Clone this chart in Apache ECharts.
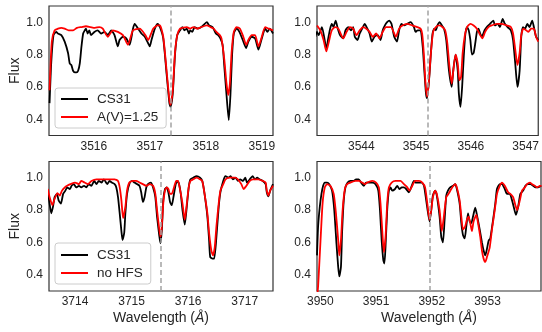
<!DOCTYPE html>
<html><head><meta charset="utf-8">
<script src="https://cdn.jsdelivr.net/npm/echarts@6/dist/echarts.min.js"></script>
<style>html,body{margin:0;padding:0;background:#fff}#c{width:542px;height:332px}</style>
</head><body><div id="c"></div>
<script>
// ---------- data (wavelength in Å, normalised flux) ----------
const obs1 = [[3515.21,0.50],[3515.24,0.75],[3515.28,0.92],[3515.33,0.94],[3515.36,0.93],[3515.42,0.92],[3515.48,0.88],[3515.54,0.81],[3515.57,0.745],[3515.60,0.735],[3515.63,0.70],[3515.66,0.69],[3515.69,0.69],[3515.72,0.70],[3515.75,0.745],[3515.78,0.85],[3515.81,0.93],[3515.84,0.95],[3515.86,0.96],[3515.89,0.93],[3515.92,0.95],[3515.95,0.92],[3516.01,0.94],[3516.07,0.95],[3516.13,0.93],[3516.19,0.94],[3516.25,0.92],[3516.31,0.95],[3516.37,0.92],[3516.43,0.85],[3516.46,0.89],[3516.52,0.91],[3516.58,0.90],[3516.64,0.86],[3516.70,0.96],[3516.73,0.99],[3516.79,0.96],[3516.85,0.93],[3516.91,0.91],[3516.97,0.87],[3517.00,0.85],[3517.03,0.89],[3517.09,0.96],[3517.14,0.99],[3517.18,0.97],[3517.24,0.90],[3517.30,0.68],[3517.35,0.50],[3517.37,0.477],[3517.41,0.56],[3517.45,0.80],[3517.49,0.92],[3517.54,0.95],[3517.58,0.97],[3517.62,0.95],[3517.66,0.96],[3517.70,0.93],[3517.72,0.95],[3517.76,0.94],[3517.80,0.97],[3517.86,0.96],[3517.92,0.97],[3517.98,0.99],[3518.02,1.00],[3518.06,0.98],[3518.12,0.97],[3518.18,0.93],[3518.22,0.92],[3518.26,0.90],[3518.30,0.86],[3518.33,0.73],[3518.37,0.55],[3518.41,0.395],[3518.44,0.55],[3518.47,0.80],[3518.50,0.93],[3518.55,0.96],[3518.60,0.94],[3518.66,0.89],[3518.72,0.84],[3518.76,0.88],[3518.82,0.91],[3518.88,0.90],[3518.94,0.83],[3519.00,0.90],[3519.06,0.96],[3519.10,0.94],[3519.14,0.96],[3519.20,0.93]];
const mod1 = [[3515.21,0.58],[3515.25,0.88],[3515.30,0.95],[3515.36,0.96],[3515.42,0.965],[3515.48,0.96],[3515.55,0.95],[3515.63,0.95],[3515.70,0.965],[3515.78,0.97],[3515.86,0.975],[3515.94,0.97],[3516.02,0.965],[3516.10,0.97],[3516.16,0.96],[3516.25,0.91],[3516.34,0.95],[3516.43,0.94],[3516.52,0.92],[3516.61,0.86],[3516.70,0.95],[3516.82,0.96],[3516.92,0.92],[3516.97,0.89],[3517.06,0.96],[3517.14,0.98],[3517.18,0.98],[3517.24,0.91],[3517.30,0.70],[3517.35,0.52],[3517.37,0.49],[3517.41,0.58],[3517.45,0.81],[3517.49,0.92],[3517.54,0.96],[3517.60,0.967],[3517.66,0.97],[3517.72,0.96],[3517.78,0.97],[3517.84,0.96],[3517.90,0.967],[3518.02,0.98],[3518.08,0.97],[3518.14,0.96],[3518.19,0.94],[3518.25,0.92],[3518.28,0.90],[3518.33,0.77],[3518.37,0.62],[3518.40,0.55],[3518.43,0.62],[3518.46,0.81],[3518.50,0.94],[3518.55,0.97],[3518.61,0.96],[3518.67,0.91],[3518.72,0.86],[3518.76,0.89],[3518.82,0.92],[3518.88,0.92],[3518.94,0.85],[3519.00,0.91],[3519.06,0.97],[3519.12,0.96],[3519.20,0.95]];

const obs2 = [[3543.16,0.91],[3543.19,0.94],[3543.22,0.92],[3543.28,0.97],[3543.33,0.89],[3543.36,0.83],[3543.39,0.89],[3543.43,0.96],[3543.46,0.99],[3543.49,0.97],[3543.53,1.01],[3543.57,0.96],[3543.61,0.92],[3543.67,0.90],[3543.71,0.95],[3543.76,0.97],[3543.81,0.95],[3543.85,0.97],[3543.88,0.91],[3543.93,0.89],[3543.97,0.93],[3544.03,0.97],[3544.06,0.99],[3544.11,0.96],[3544.15,0.93],[3544.19,0.88],[3544.24,0.91],[3544.30,0.92],[3544.35,0.89],[3544.39,0.95],[3544.43,0.98],[3544.47,1.00],[3544.51,1.01],[3544.55,0.99],[3544.60,0.91],[3544.65,0.88],[3544.69,0.95],[3544.73,0.99],[3544.78,0.98],[3544.84,0.99],[3544.90,1.00],[3544.96,0.97],[3544.99,0.94],[3545.03,0.95],[3545.08,0.95],[3545.12,0.85],[3545.15,0.70],[3545.18,0.56],[3545.20,0.53],[3545.24,0.66],[3545.27,0.81],[3545.30,0.93],[3545.33,0.96],[3545.36,0.95],[3545.39,0.98],[3545.43,1.00],[3545.47,0.98],[3545.51,0.96],[3545.55,0.89],[3545.60,0.70],[3545.65,0.60],[3545.68,0.71],[3545.72,0.80],[3545.76,0.70],[3545.78,0.56],[3545.81,0.477],[3545.84,0.60],[3545.87,0.79],[3545.90,0.93],[3545.93,0.97],[3545.96,0.95],[3545.99,0.89],[3546.02,0.80],[3546.05,0.81],[3546.08,0.87],[3546.11,0.94],[3546.14,0.96],[3546.17,0.93],[3546.20,0.91],[3546.25,0.95],[3546.29,0.97],[3546.35,0.99],[3546.41,1.01],[3546.44,0.98],[3546.49,0.99],[3546.53,0.97],[3546.58,1.02],[3546.62,0.99],[3546.67,0.97],[3546.73,0.95],[3546.77,0.89],[3546.81,0.745],[3546.85,0.60],[3546.89,0.70],[3546.92,0.91],[3546.95,0.97],[3546.99,0.96],[3547.03,0.99],[3547.07,0.97],[3547.12,1.01],[3547.15,0.97],[3547.19,0.91],[3547.23,0.89]];
const mod2 = [[3543.19,0.98],[3543.25,0.95],[3543.31,0.89],[3543.36,0.82],[3543.40,0.87],[3543.46,0.95],[3543.52,0.97],[3543.58,0.96],[3543.67,0.90],[3543.73,0.94],[3543.79,0.97],[3543.85,0.96],[3543.91,0.92],[3543.97,0.95],[3544.03,0.97],[3544.09,0.96],[3544.15,0.94],[3544.21,0.91],[3544.27,0.93],[3544.33,0.90],[3544.39,0.94],[3544.45,0.97],[3544.54,0.97],[3544.63,0.91],[3544.69,0.96],[3544.75,0.98],[3544.84,0.99],[3544.93,0.98],[3545.02,0.97],[3545.08,0.96],[3545.11,0.93],[3545.14,0.81],[3545.17,0.63],[3545.20,0.54],[3545.23,0.62],[3545.27,0.81],[3545.31,0.94],[3545.36,0.97],[3545.42,0.98],[3545.48,0.97],[3545.53,0.95],[3545.57,0.87],[3545.61,0.72],[3545.65,0.62],[3545.68,0.70],[3545.72,0.80],[3545.76,0.745],[3545.79,0.64],[3545.82,0.66],[3545.85,0.81],[3545.89,0.92],[3545.93,0.97],[3545.99,0.99],[3546.05,0.98],[3546.11,0.96],[3546.17,0.92],[3546.21,0.90],[3546.26,0.94],[3546.32,0.97],[3546.38,0.98],[3546.47,0.99],[3546.56,0.99],[3546.65,0.98],[3546.73,0.97],[3546.77,0.93],[3546.81,0.83],[3546.85,0.735],[3546.89,0.81],[3546.92,0.92],[3546.96,0.96],[3547.01,0.95],[3547.05,0.94],[3547.10,0.96],[3547.15,0.96],[3547.19,0.91],[3547.23,0.88]];

const obs3 = [[3713.52,0.91],[3713.55,0.84],[3713.58,0.78],[3713.61,0.82],[3713.64,0.88],[3713.68,0.90],[3713.71,0.86],[3713.75,0.84],[3713.79,0.90],[3713.83,0.92],[3713.86,0.94],[3713.91,0.93],[3713.94,0.95],[3713.98,0.96],[3714.02,0.94],[3714.07,0.95],[3714.11,0.94],[3714.16,0.95],[3714.20,0.94],[3714.24,0.96],[3714.29,0.95],[3714.34,0.98],[3714.38,0.96],[3714.42,0.98],[3714.47,0.97],[3714.51,0.99],[3714.57,0.96],[3714.61,0.98],[3714.65,0.97],[3714.70,0.96],[3714.73,0.94],[3714.76,0.88],[3714.79,0.78],[3714.82,0.67],[3714.84,0.615],[3714.87,0.66],[3714.89,0.78],[3714.92,0.90],[3714.97,0.97],[3715.01,0.98],[3715.05,0.97],[3715.10,0.96],[3715.14,0.95],[3715.17,0.91],[3715.20,0.85],[3715.23,0.88],[3715.26,0.94],[3715.29,0.96],[3715.34,0.97],[3715.38,0.94],[3715.42,0.88],[3715.45,0.76],[3715.49,0.64],[3715.51,0.595],[3715.535,0.68],[3715.56,0.86],[3715.59,0.93],[3715.62,0.94],[3715.65,0.91],[3715.68,0.85],[3715.71,0.83],[3715.74,0.88],[3715.78,0.96],[3715.81,0.98],[3715.84,0.96],[3715.87,0.90],[3715.90,0.80],[3715.94,0.71],[3715.97,0.80],[3716.01,0.94],[3716.04,0.99],[3716.09,1.0],[3716.15,1.01],[3716.21,1.0],[3716.25,0.98],[3716.29,0.90],[3716.34,0.76],[3716.37,0.615],[3716.39,0.51],[3716.43,0.50],[3716.46,0.50],[3716.50,0.635],[3716.54,0.82],[3716.57,0.91],[3716.62,0.98],[3716.66,1.01],[3716.71,1.0],[3716.75,1.01],[3716.79,0.99],[3716.84,1.0],[3716.88,0.98],[3716.92,0.99],[3716.97,0.98],[3717.01,1.0],[3717.04,0.97],[3717.09,0.99],[3717.14,1.01],[3717.18,0.99],[3717.22,1.0],[3717.26,0.99],[3717.32,0.98],[3717.37,0.96],[3717.39,0.91],[3717.42,0.885],[3717.45,0.92],[3717.50,0.96]];
const mod3 = [[3713.52,0.93],[3713.55,0.88],[3713.60,0.83],[3713.64,0.87],[3713.69,0.905],[3713.73,0.89],[3713.77,0.92],[3713.82,0.94],[3713.86,0.95],[3713.92,0.96],[3714.00,0.97],[3714.07,0.96],[3714.11,0.98],[3714.17,0.97],[3714.23,0.96],[3714.29,0.98],[3714.38,0.99],[3714.47,0.99],[3714.58,0.99],[3714.70,0.99],[3714.76,0.98],[3714.79,0.94],[3714.82,0.86],[3714.85,0.75],[3714.89,0.82],[3714.92,0.92],[3714.96,0.97],[3715.02,0.98],[3715.08,0.98],[3715.14,0.97],[3715.20,0.96],[3715.26,0.95],[3715.32,0.96],[3715.38,0.95],[3715.42,0.90],[3715.45,0.80],[3715.49,0.68],[3715.51,0.635],[3715.53,0.68],[3715.56,0.84],[3715.59,0.92],[3715.62,0.94],[3715.65,0.93],[3715.68,0.90],[3715.71,0.90],[3715.75,0.94],[3715.79,0.98],[3715.82,0.98],[3715.86,0.92],[3715.90,0.84],[3715.94,0.74],[3715.97,0.82],[3716.01,0.94],[3716.04,0.98],[3716.09,0.99],[3716.15,1.0],[3716.21,0.99],[3716.25,0.98],[3716.29,0.90],[3716.34,0.78],[3716.37,0.66],[3716.41,0.55],[3716.44,0.52],[3716.47,0.57],[3716.50,0.70],[3716.54,0.84],[3716.57,0.92],[3716.62,0.96],[3716.66,0.99],[3716.74,1.0],[3716.82,1.0],[3716.88,0.99],[3716.94,0.96],[3716.98,0.93],[3717.03,0.95],[3717.09,0.98],[3717.15,0.99],[3717.24,0.99],[3717.32,0.98],[3717.37,0.97],[3717.39,0.92],[3717.42,0.89],[3717.45,0.92],[3717.50,0.95]];

const obs4 = [[3949.94,0.52],[3949.96,0.70],[3949.99,0.82],[3950.02,0.90],[3950.05,0.95],[3950.08,0.97],[3950.12,0.97],[3950.16,0.96],[3950.21,0.92],[3950.25,0.80],[3950.29,0.59],[3950.32,0.45],[3950.34,0.39],[3950.37,0.45],[3950.39,0.66],[3950.42,0.86],[3950.45,0.94],[3950.49,0.97],[3950.54,0.98],[3950.60,0.98],[3950.64,0.99],[3950.69,0.99],[3950.73,0.97],[3950.78,0.95],[3950.82,0.97],[3950.87,0.97],[3950.93,0.97],[3950.99,0.96],[3951.04,0.92],[3951.07,0.80],[3951.10,0.615],[3951.13,0.49],[3951.15,0.47],[3951.17,0.575],[3951.20,0.80],[3951.23,0.92],[3951.26,0.94],[3951.29,0.92],[3951.34,0.93],[3951.38,0.95],[3951.42,0.93],[3951.46,0.94],[3951.50,0.94],[3951.54,0.93],[3951.59,0.91],[3951.64,0.95],[3951.68,0.98],[3951.71,0.97],[3951.77,0.97],[3951.82,0.97],[3951.86,0.95],[3951.90,0.86],[3951.96,0.73],[3951.99,0.80],[3952.02,0.89],[3952.06,0.92],[3952.09,0.89],[3952.14,0.76],[3952.17,0.635],[3952.20,0.60],[3952.23,0.74],[3952.26,0.89],[3952.29,0.92],[3952.33,0.94],[3952.38,0.95],[3952.42,0.96],[3952.45,0.93],[3952.50,0.84],[3952.53,0.72],[3952.56,0.645],[3952.59,0.625],[3952.62,0.70],[3952.65,0.78],[3952.68,0.73],[3952.71,0.72],[3952.74,0.76],[3952.78,0.815],[3952.81,0.77],[3952.86,0.68],[3952.90,0.60],[3952.93,0.55],[3952.96,0.52],[3952.99,0.56],[3953.02,0.61],[3953.05,0.625],[3953.10,0.74],[3953.14,0.84],[3953.17,0.93],[3953.22,0.96],[3953.26,0.96],[3953.31,0.93],[3953.35,0.90],[3953.40,0.90],[3953.44,0.86],[3953.47,0.82],[3953.51,0.77],[3953.55,0.82],[3953.59,0.90],[3953.64,0.92],[3953.68,0.95],[3953.73,0.96],[3953.77,0.96],[3953.82,0.95],[3953.86,0.94],[3953.91,0.94],[3953.96,0.95]];
const mod4 = [[3949.95,0.29],[3949.96,0.33],[3950.00,0.59],[3950.04,0.84],[3950.08,0.94],[3950.12,0.96],[3950.18,0.95],[3950.24,0.90],[3950.28,0.78],[3950.32,0.615],[3950.34,0.52],[3950.37,0.615],[3950.40,0.80],[3950.44,0.93],[3950.48,0.96],[3950.54,0.97],[3950.63,0.98],[3950.69,0.98],[3950.75,0.97],[3950.80,0.96],[3950.84,0.97],[3950.93,0.98],[3951.00,0.97],[3951.05,0.94],[3951.08,0.84],[3951.11,0.68],[3951.14,0.54],[3951.17,0.635],[3951.20,0.84],[3951.23,0.94],[3951.28,0.97],[3951.35,0.98],[3951.44,0.98],[3951.50,0.96],[3951.56,0.94],[3951.60,0.92],[3951.65,0.95],[3951.70,0.98],[3951.77,0.98],[3951.83,0.97],[3951.88,0.94],[3951.92,0.84],[3951.96,0.74],[3951.99,0.80],[3952.02,0.88],[3952.06,0.92],[3952.09,0.90],[3952.14,0.80],[3952.18,0.67],[3952.21,0.74],[3952.26,0.88],[3952.30,0.90],[3952.35,0.93],[3952.39,0.95],[3952.42,0.96],[3952.45,0.94],[3952.50,0.86],[3952.53,0.76],[3952.56,0.68],[3952.60,0.70],[3952.63,0.74],[3952.66,0.76],[3952.69,0.72],[3952.72,0.67],[3952.75,0.73],[3952.80,0.77],[3952.83,0.72],[3952.87,0.635],[3952.90,0.55],[3952.93,0.50],[3952.96,0.48],[3952.99,0.51],[3953.04,0.57],[3953.08,0.68],[3953.13,0.80],[3953.17,0.90],[3953.22,0.95],[3953.26,0.97],[3953.31,0.95],[3953.37,0.91],[3953.41,0.90],[3953.46,0.88],[3953.50,0.83],[3953.53,0.80],[3953.58,0.86],[3953.62,0.92],[3953.67,0.94],[3953.71,0.96],[3953.76,0.97],[3953.80,0.96],[3953.85,0.95],[3953.89,0.94],[3953.94,0.95],[3953.97,0.95]];

const xRanges = [[3515.2,3519.2],[3543.19,3547.23],[3713.54,3717.5],[3949.94,3953.96]];
const xTickLabels = [[3516,3517,3518,3519],[3544,3545,3546,3547],[3714,3715,3716,3717],[3950,3951,3952,3953]];
const yTickLabels = [0.4,0.6,0.8,1.0];
const yRange = [0.3,1.1];
const lineCenters = [3517.37,3545.21,3715.52,3951.96];
const obsName = 'CS31';
const modelNames = ['A(V)=1.25','A(V)=1.25','no HFS','no HFS'];
const observed = [obs1,obs2,obs3,obs4];
const models = [mod1,mod2,mod3,mod4];

// ---------- chart ----------
const FONT = '"Liberation Sans", Arial, sans-serif';
const TXT = '#262626';
const gridPos = [
  {left:49, top:6, width:224, height:129.5},
  {left:317, top:6, width:224, height:129.5},
  {left:49, top:161.5, width:224, height:129.5},
  {left:317, top:161.5, width:224, height:129.5}
];
const grids = gridPos.map(g => Object.assign({show:true, borderColor:'#333', borderWidth:1.2, backgroundColor:'transparent', containLabel:false}, g));

const xAxes = xRanges.map((r,i) => ({
  type:'value', gridIndex:i, min:r[0], max:r[1],
  axisLine:{show:false}, axisTick:{show:false}, splitLine:{show:false},
  axisLabel:{customValues:xTickLabels[i], color:TXT, fontSize:12, fontFamily:FONT, margin:5,
             formatter:v=>String(Math.round(v))},
  name: i>=2 ? '{n|Wavelength (}{i|Å}{n|)}' : '',
  nameLocation:'middle', nameGap:20,
  nameTextStyle:{rich:{n:{fontSize:14,fontFamily:FONT,color:TXT},i:{fontSize:14,fontFamily:FONT,color:TXT,fontStyle:'italic'}}}
}));
const yAxes = xRanges.map((r,i) => ({
  type:'value', gridIndex:i, min:yRange[0], max:yRange[1],
  axisLine:{show:false}, axisTick:{show:false}, splitLine:{show:false},
  axisLabel:{customValues:yTickLabels, color:TXT, fontSize:12, fontFamily:FONT, margin:6,
             formatter:v=>v.toFixed(1)},
  name: (i%2===0) ? 'Flux' : '',
  nameLocation:'middle', nameGap:27,
  nameTextStyle:{fontSize:14,fontFamily:FONT,color:TXT}
}));

const series = [];
for (let i=0;i<4;i++){
  series.push({
    type:'line', name:obsName, xAxisIndex:i, yAxisIndex:i, data:observed[i],
    showSymbol:false, smooth:0.2, z:2,
    lineStyle:{color:'#000', width:1.8}, itemStyle:{color:'#000'},
    markLine:{silent:true, symbol:['none','none'], label:{show:false}, animation:false,
      lineStyle:{color:'#a3a3a3', type:[5,3], width:1.5},
      data:[{xAxis:lineCenters[i]}]}
  });
  series.push({
    type:'line', name:modelNames[i], xAxisIndex:i, yAxisIndex:i, data:models[i],
    showSymbol:false, smooth:0.2, z:3,
    lineStyle:{color:'#ff0000', width:1.8}, itemStyle:{color:'#ff0000'}
  });
}

const legendCommon = {
  orient:'vertical', icon:'rect', itemWidth:27, itemHeight:2, itemGap:4,
  backgroundColor:'rgba(255,255,255,0.85)', borderColor:'#cccccc', borderWidth:1, borderRadius:3,
  textStyle:{fontSize:13.5, fontFamily:FONT, color:TXT, lineHeight:14, padding:[0,0,0,4]},
  selectedMode:false
};
const legends = [
  Object.assign({}, legendCommon, {left:55, top:88, padding:[4,8,4,6], data:[obsName, modelNames[0]]}),
  Object.assign({}, legendCommon, {left:55, top:243, padding:[5,8,4,6], data:[obsName, modelNames[2]]})
];

const chart = echarts.init(document.getElementById('c'), null, {renderer:'canvas'});
chart.setOption({
  animation:false, backgroundColor:'#fff',
  grid:grids, xAxis:xAxes, yAxis:yAxes, legend:legends, series:series
});
</script>
</body></html>
